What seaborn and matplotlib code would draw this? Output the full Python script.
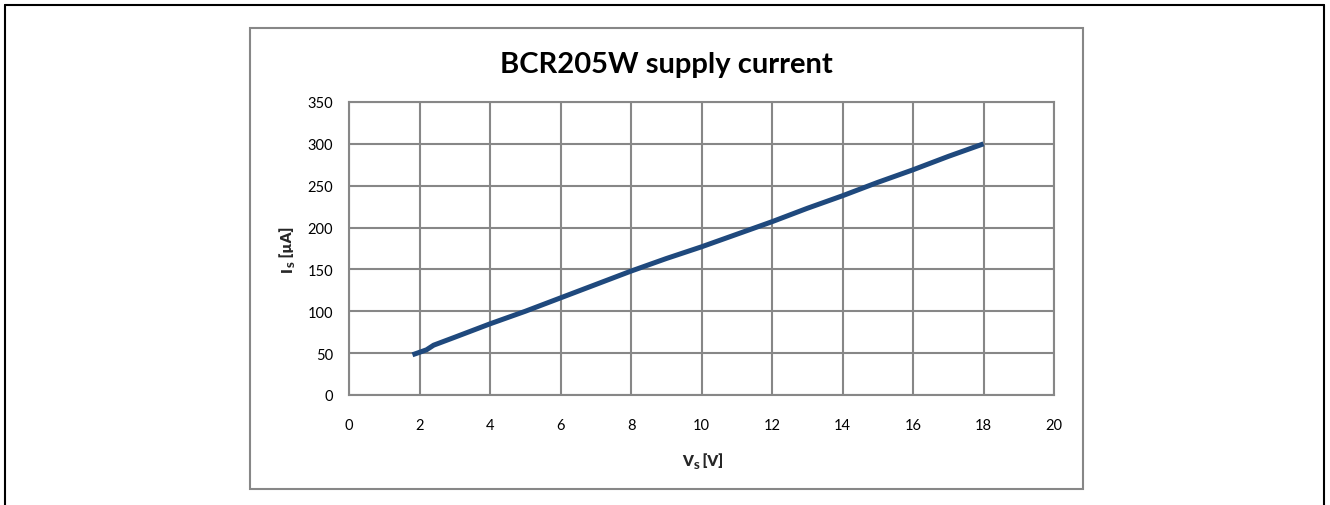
import matplotlib
matplotlib.use("Agg")
import matplotlib.pyplot as plt
import seaborn as sns
import pandas as pd
from matplotlib.lines import Line2D
from matplotlib.patches import Rectangle

# ---- data ----
vs_volts = [1.8, 2.0, 2.2, 2.4, 3, 4, 5, 6, 7, 8, 9, 10, 11, 12, 13, 14, 15, 16, 17, 18]
is_microamp = [48, 51, 54, 59.5, 69, 85, 100, 116, 132, 148, 163, 177, 192, 207, 223, 238, 254, 269, 285, 300]
x_ticks = [0, 2, 4, 6, 8, 10, 12, 14, 16, 18, 20]
y_ticks = [0, 50, 100, 150, 200, 250, 300, 350]
title_text = "BCR205W supply current"
x_label_parts = ["V", "S", " [V]"]
y_label_parts = ["I", "S", " [µA]"]

df = pd.DataFrame({"Vs": vs_volts, "Is": is_microamp})

sns.set_style("white")
plt.rcParams["font.family"] = ["Lato", "DejaVu Sans"]

W, H = 1330, 506
fig = plt.figure(figsize=(W / 100, H / 100), dpi=100)
fig.patch.set_facecolor("white")

grid_c = "#878787"
line_c = "#1F497D"

ax = fig.add_axes([349 / W, 110 / H, 705 / W, 293 / H])
sns.lineplot(data=df, x="Vs", y="Is", ax=ax, color=line_c, linewidth=3.6,
             solid_capstyle="butt", solid_joinstyle="round")

ax.set_xlim(0, 20)
ax.set_ylim(0, 350)
ax.set_xticks(x_ticks)
ax.set_yticks(y_ticks)
ax.set_xticklabels([str(t) for t in x_ticks])
ax.set_yticklabels([str(t) for t in y_ticks])
ax.grid(True, color=grid_c, linewidth=1.5)
ax.set_axisbelow(True)
for s in ax.spines.values():
    s.set_color(grid_c)
    s.set_linewidth(1.5)
ax.tick_params(axis="both", which="major", direction="out", length=4.5,
               width=1.5, color=grid_c, labelsize=10.5, labelcolor="black")
ax.tick_params(axis="y", pad=7)
ax.tick_params(axis="x", pad=12)
ax.set_xlabel("")
ax.set_ylabel("")

renderer = fig.canvas.get_renderer()
LABEL_WEIGHT = "heavy"


def fxy(px, py):
    return px / W, 1 - py / H


def text_width(s, size):
    t = fig.text(0, 0, s, fontsize=size, fontweight=LABEL_WEIGHT)
    w = t.get_window_extent(renderer=renderer).width
    t.remove()
    return w


def sub_label(cx, cy, parts, vertical=False, size=11):
    sub_size = size * 0.68
    sizes = [size, sub_size, size]
    widths = [text_width(p, s) for p, s in zip(parts, sizes)]
    total = sum(widths)
    cap = size * 100 / 72 * 0.72
    shifts = [0, 3.0, 0]
    pos = -total / 2
    for p, s, w, sh in zip(parts, sizes, widths, shifts):
        if not vertical:
            x, y = cx + pos, cy + cap / 2 + sh
            rot = 0
        else:
            x, y = cx + cap / 2 + sh, cy - pos
            rot = 90
        fig.text(*fxy(x, y), p, fontsize=s, fontweight=LABEL_WEIGHT, ha="left",
                 va="baseline", rotation=rot, rotation_mode="anchor")
        pos += w


sub_label(703, 461, x_label_parts)
sub_label(286, 249, y_label_parts, vertical=True)
fig.text(*fxy(666, 65), title_text, ha="center", va="center",
         fontsize=21, fontweight="bold", color="black")

# chart area box
fig.patches.append(Rectangle((250 / W, 1 - 490 / H), 833 / W, 461 / H,
                             transform=fig.transFigure, fill=False,
                             edgecolor=grid_c, linewidth=1.5))
# outer page frame (left, top, right)
frame_kw = dict(transform=fig.transFigure, color="black", linewidth=1.5)
fig.lines.append(Line2D([5.5 / W, 5.5 / W], [0, 1 - 6 / H], **frame_kw))
fig.lines.append(Line2D([5.5 / W, 1323.5 / W], [1 - 6 / H, 1 - 6 / H], **frame_kw))
fig.lines.append(Line2D([1323.5 / W, 1323.5 / W], [0, 1 - 6 / H], **frame_kw))

fig.savefig("out.png", dpi=100, facecolor="white")
